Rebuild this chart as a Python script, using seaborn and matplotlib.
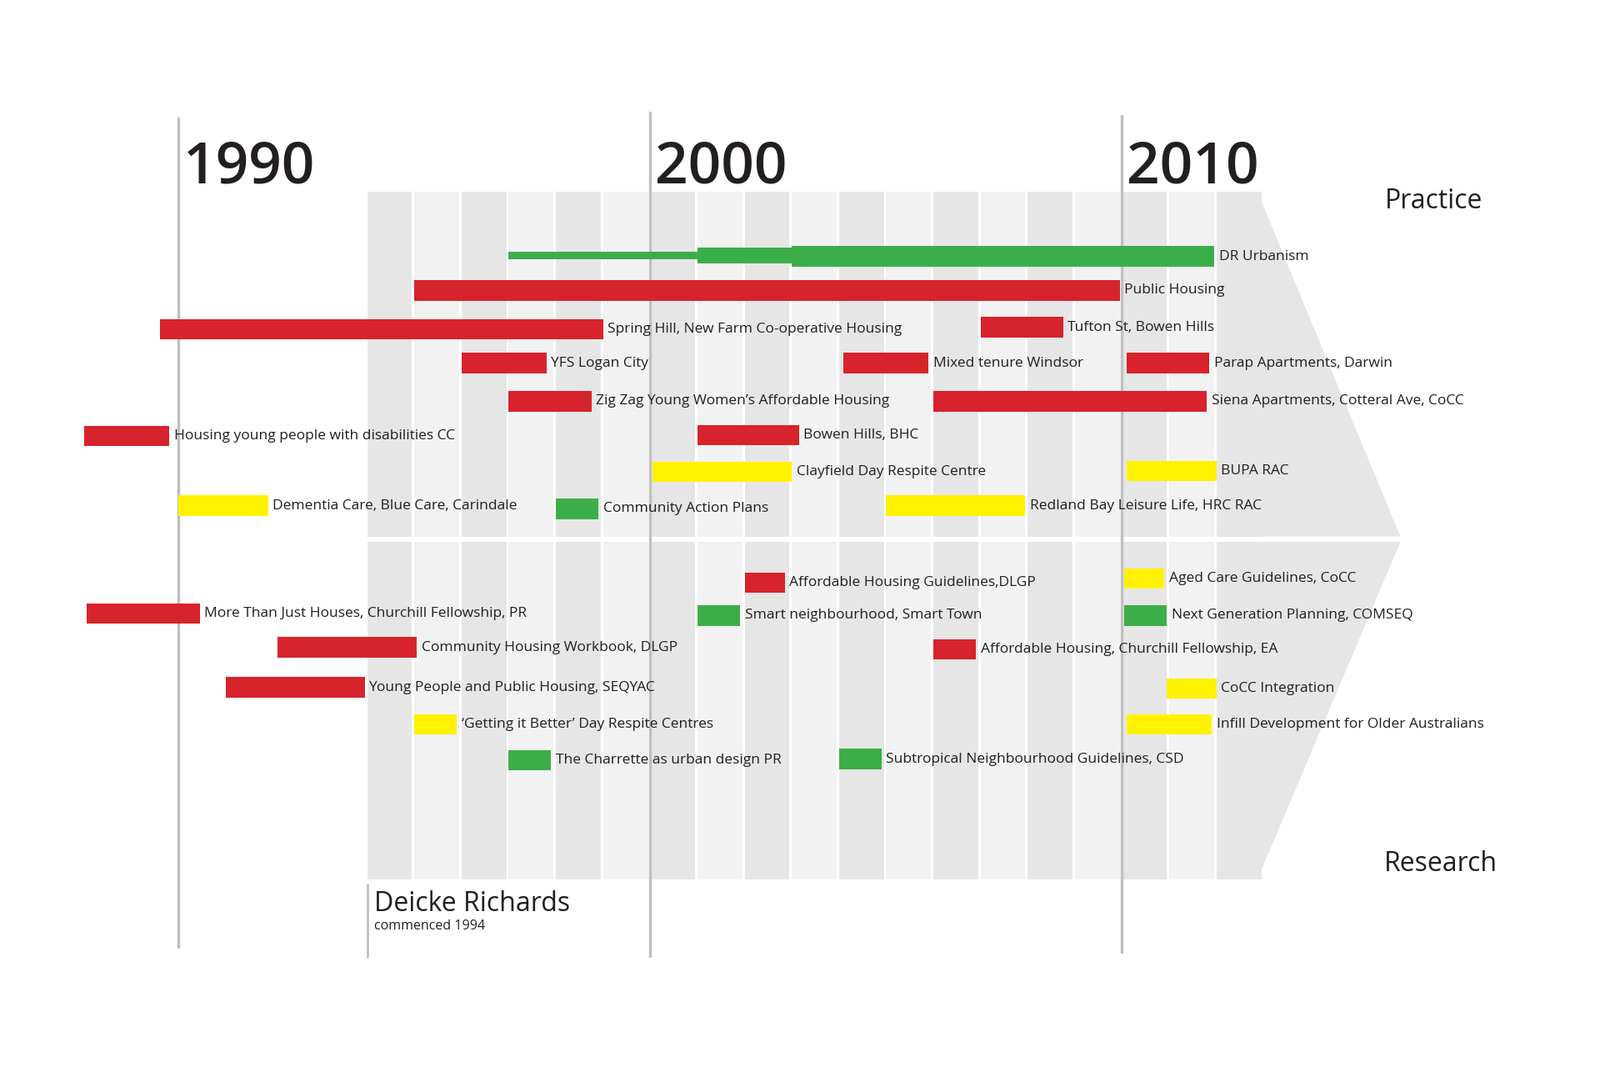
import matplotlib
matplotlib.use("Agg")
import matplotlib.pyplot as plt
from matplotlib.patches import Polygon, Rectangle
import seaborn as sns
import pandas as pd

sns.set_theme(style="white", font="Open Sans")

RED = "#d7232b"
GREEN = "#3cae49"
YELLOW = "#fff200"

# bars: label, start year, end year, row position (0 = top of chart), colour
labels = ["DR Urbanism", "Public Housing", "Spring Hill, New Farm Co-operative Housing",
          "Tufton St, Bowen Hills", "YFS Logan City", "Mixed tenure Windsor",
          "Parap Apartments, Darwin", "Zig Zag Young Women\u2019s Affordable Housing",
          "Siena Apartments, Cotteral Ave, CoCC", "Housing young people with disabilities CC",
          "Bowen Hills, BHC", "Clayfield Day Respite Centre", "BUPA RAC",
          "Dementia Care, Blue Care, Carindale", "Community Action Plans",
          "Redland Bay Leisure Life, HRC RAC",
          "Affordable Housing Guidelines,DLGP", "Aged Care Guidelines, CoCC",
          "More Than Just Houses, Churchill Fellowship, PR", "Smart neighbourhood, Smart Town",
          "Next Generation Planning, COMSEQ", "Community Housing Workbook, DLGP",
          "Affordable Housing, Churchill Fellowship, EA", "Young People and Public Housing, SEQYAC",
          "CoCC Integration", "\u2018Getting it Better\u2019 Day Respite Centres",
          "Infill Development for Older Australians", "The Charrette as urban design PR",
          "Subtropical Neighbourhood Guidelines, CSD"]
starts = [2003.0, 1995.0, 1989.6, 2007.0, 1996.0, 2004.1, 2010.1, 1997.0, 2006.0, 1988.0,
          2001.0, 2000.05, 2010.1, 1990.0, 1998.0, 2005.0,
          2002.0, 2010.05, 1988.05, 2001.0, 2010.05, 1992.1, 2006.0, 1991.0,
          2010.95, 1995.0, 2010.1, 1997.0, 2004.0]
ends = [2011.95, 2009.95, 1999.0, 2008.75, 1997.8, 2005.9, 2011.85, 1998.75, 2011.8, 1989.8,
        2003.15, 2003.0, 2012.0, 1991.9, 1998.9, 2007.95,
        2002.85, 2010.9, 1990.45, 2001.9, 2010.95, 1995.05, 2006.9, 1993.95,
        2012.0, 1995.9, 2011.9, 1997.9, 2004.9]
rows = [250, 283, 321, 319, 354, 354, 354, 391, 391, 425, 424, 460, 459, 493, 496, 493,
        568, 564, 598, 600, 600, 631, 633, 670, 671, 706, 706, 741, 740]
colours = [GREEN, RED, RED, RED, RED, RED, RED, RED, RED, RED, RED, YELLOW, YELLOW, YELLOW,
           GREEN, YELLOW, RED, YELLOW, RED, GREEN, GREEN, RED, RED, RED, YELLOW, YELLOW,
           YELLOW, GREEN, GREEN]

# earlier, thinner phases of DR Urbanism
dr_starts = [1997.0, 2001.0]
dr_ends = [2001.0, 2003.0]
dr_heights = [7, 15]

decade_years = [1990, 2000, 2010]
decade_tops = [115, 110, 113]
decade_bottoms = [923, 932, 928]

df = pd.DataFrame({"label": labels, "start": starts, "end": ends, "row": rows, "colour": colours})

fig = plt.figure(figsize=(19.2, 12.8), dpi=100)
ax = fig.add_axes([0, 0, 1, 1])
ax.set_xlim(1986.217, 2020.13)
ax.set_ylim(1040, 0)
ax.axis("off")

# background columns
for i, yr in enumerate(range(1994, 2013)):
    shade = "#e6e6e6" if i % 2 == 0 else "#f2f2f2"
    ax.add_patch(Rectangle((yr, 187), 0.95, 336, color=shade, lw=0, zorder=0))
    ax.add_patch(Rectangle((yr, 528), 0.95, 329, color=shade, lw=0, zorder=0))
ax.add_patch(Polygon([(2012.87, 187), (2015.9, 523), (2012.87, 523)], color="#e6e6e6", lw=0, zorder=0))
ax.add_patch(Polygon([(2012.87, 528), (2015.9, 528), (2012.87, 857)], color="#e6e6e6", lw=0, zorder=0))

# decade lines and labels
for yr, top, bot in zip(decade_years, decade_tops, decade_bottoms):
    ax.plot([yr, yr], [top, bot], color="#c0c0c0", lw=2.5, zorder=1)
    ax.text(yr + 0.1, 178, str(yr), fontsize=50, fontweight="semibold", color="#231f20",
            va="baseline", zorder=3)
ax.plot([1994, 1994], [862, 933], color="#c0c0c0", lw=2, zorder=1)

# bars
ax.barh(df["row"], df["end"] - df["start"], left=df["start"], height=20,
        color=df["colour"], lw=0, zorder=2)
ax.barh([249, 249], [e - s for s, e in zip(dr_starts, dr_ends)], left=dr_starts,
        height=dr_heights, color=GREEN, lw=0, zorder=2)
for _, r in df.iterrows():
    ax.text(r["end"] + 0.1, r["row"], r["label"], fontsize=12.5, color="#231f20",
            va="center", zorder=3)

ax.text(2016.6, 196, "Practice", fontsize=23, color="#231f20", ha="center", va="center")
ax.text(2016.75, 842, "Research", fontsize=23, color="#231f20", ha="center", va="center")
ax.text(1994.15, 888, "Deicke Richards", fontsize=23, color="#231f20", va="baseline")
ax.text(1994.15, 906, "commenced 1994", fontsize=11.5, color="#231f20", va="baseline")

fig.savefig("out.png", dpi=100, facecolor="white")
